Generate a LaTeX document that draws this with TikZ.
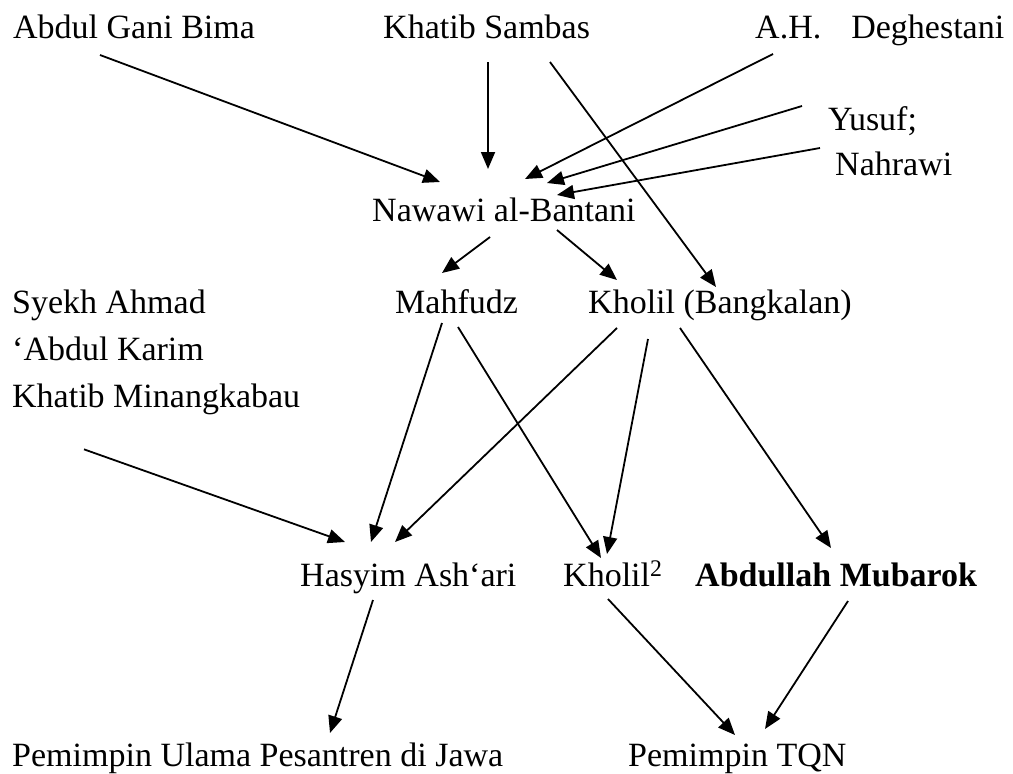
\documentclass[tikz,border=0pt]{standalone}
\usepackage{fontspec}
\setmainfont{Liberation Serif}
\usetikzlibrary{arrows.meta,calc}

\begin{document}
\begin{tikzpicture}[x=1pt,y=-1pt,
	person/.style={font=\fontsize{34}{47}\selectfont, inner sep=0pt, anchor=base west},
	flow/.style={-{Triangle[length=17pt,width=14pt]}, line width=1.8pt}]
		\useasboundingbox (0,0) rectangle (1013,774);
		\node[person] (bima) at (13,38) {Abdul Gani Bima};
		\node[person] (sambas) at (383,38) {Khatib Sambas};
		\node[person] (deg) at (755,38) {A.H.\hspace{30pt}Deghestani};
		\node[person] (yusuf) at (828,130) {Yusuf;};
		\node[person] (nahrawi) at (835,175) {Nahrawi};
		\node[person] (nawawi) at (372,221) {Nawawi al-Bantani};
		\node[person, anchor=north west, align=left] (syekh) at (12,290) {Syekh Ahmad\\‘Abdul Karim\\Khatib Minangkabau};
		\node[person] (mahfudz) at (395,313) {Mahfudz};
		\node[person] (kholil) at (588,313) {Kholil (Bangkalan)};
		\node[person] (hasyim) at (300,586) {Hasyim Ash‘ari};
		\node[person] (kholilb) at (563,586) {Kholil\textsuperscript{2}};
		\node[person] (mubarok) at (695,586) {\textbf{Abdullah Mubarok}};
		\node[person] (ulama) at (12,766) {Pemimpin Ulama Pesantren di Jawa};
		\node[person] (tqn) at (628,766) {Pemimpin TQN};
		\draw[flow] ($(bima.base west)+(87,17)$) -- ($(nawawi.base west)+(68,-39)$);
		\draw[flow] ($(sambas.base west)+(105,24)$) -- ($(nawawi.base west)+(116,-52)$);
		\draw[flow] ($(sambas.base west)+(167,24)$) -- ($(kholil.base west)+(128,-26)$);
		\draw[flow] ($(deg.base west)+(18,16)$) -- ($(nawawi.base west)+(153,-42)$);
		\draw[flow] ($(yusuf.base west)+(-26,-24)$) -- ($(nawawi.base west)+(175,-38)$);
		\draw[flow] ($(nahrawi.base west)+(-15,-27)$) -- ($(nawawi.base west)+(185,-26)$);
		\draw[flow] ($(nawawi.base west)+(118,16)$) -- ($(mahfudz.base west)+(47,-40)$);
		\draw[flow] ($(nawawi.base west)+(185,9)$) -- ($(kholil.base west)+(29,-33)$);
		\draw[flow] ($(mahfudz.base west)+(47,10)$) -- ($(hasyim.base west)+(71,-44)$);
		\draw[flow] ($(mahfudz.base west)+(63,14)$) -- ($(kholilb.base west)+(38,-28)$);
		\draw[flow] ($(kholil.base west)+(29,15)$) -- ($(hasyim.base west)+(95,-44)$);
		\draw[flow] ($(kholil.base west)+(60,26)$) -- ($(kholilb.base west)+(44,-32)$);
		\draw[flow] ($(kholil.base west)+(92,15)$) -- ($(mubarok.base west)+(136,-38)$);
		\draw[flow] ($(syekh.south west)+(72,34)$) -- ($(hasyim.base west)+(45,-44)$);
		\draw[flow] ($(hasyim.base west)+(73,14)$) -- ($(ulama.base west)+(318,-33)$);
		\draw[flow] ($(kholilb.base west)+(45,13)$) -- ($(tqn.base west)+(107,-31)$);
		\draw[flow] ($(mubarok.base west)+(153,15)$) -- ($(tqn.base west)+(137,-37)$);
	\end{tikzpicture}
\end{document}
